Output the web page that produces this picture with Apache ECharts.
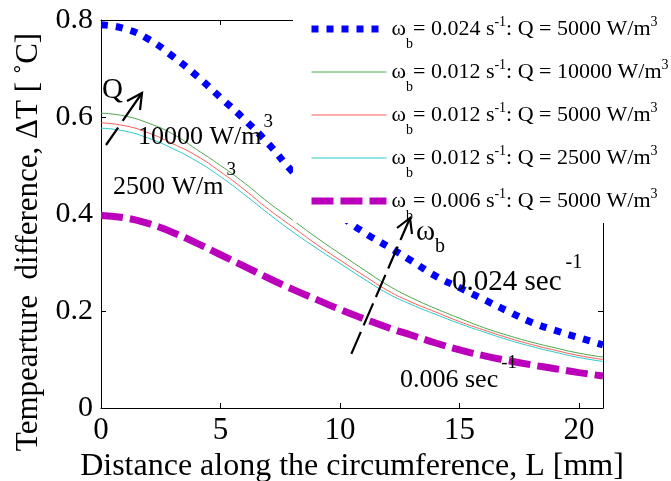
<!DOCTYPE html>
<html>
<head>
<meta charset="utf-8">
<script src="https://cdn.jsdelivr.net/npm/echarts@6/dist/echarts.min.js"></script>
<style>html,body{margin:0;padding:0;background:#fff}#c{width:671px;height:481px}</style>
</head>
<body>
<div id="c"></div>
<script>
// ---- data ----
var xValues = [0,1,2,3,4,5,6,7,8,9,10,11,12,13,14,15,16,17,18,19,20,21];
var wb024Q5000  = [0.790,0.782,0.760,0.725,0.685,0.640,0.595,0.545,0.488,0.440,0.398,0.362,0.333,0.303,0.272,0.248,0.224,0.200,0.177,0.160,0.145,0.130];
var wb012Q10000 = [0.608,0.602,0.587,0.565,0.533,0.500,0.464,0.424,0.388,0.352,0.318,0.285,0.253,0.227,0.205,0.185,0.166,0.150,0.136,0.124,0.113,0.105];
var wb012Q5000  = [0.588,0.582,0.567,0.545,0.520,0.487,0.450,0.410,0.374,0.338,0.305,0.273,0.242,0.218,0.198,0.178,0.161,0.145,0.131,0.119,0.108,0.100];
var wb012Q2500  = [0.577,0.571,0.556,0.535,0.509,0.477,0.440,0.401,0.364,0.330,0.298,0.266,0.236,0.213,0.193,0.174,0.157,0.141,0.127,0.115,0.104,0.096];
var wb006Q5000  = [0.397,0.392,0.380,0.362,0.340,0.316,0.292,0.268,0.245,0.224,0.203,0.184,0.166,0.150,0.134,0.120,0.108,0.098,0.089,0.081,0.073,0.066];
var xTicks = [0,5,10,15,20];
var yTicks = [0,0.2,0.4,0.6,0.8];
var legendNames = [
  '{w|ω}{sub|b}{n|= 0.024 s}{sup|-1}{n|: Q = 5000 W/m}{sup|3}',
  '{w|ω}{sub|b}{n|= 0.012 s}{sup|-1}{n|: Q = 10000 W/m}{sup|3}',
  '{w|ω}{sub|b}{n|= 0.012 s}{sup|-1}{n|: Q = 5000 W/m}{sup|3}',
  '{w|ω}{sub|b}{n|= 0.012 s}{sup|-1}{n|: Q = 2500 W/m}{sup|3}',
  '{w|ω}{sub|b}{n|= 0.006 s}{sup|-1}{n|: Q = 5000 W/m}{sup|3}'
];

function pairs(ys){ return xValues.map(function(x,i){ return [x, ys[i]]; }); }

var FONT = '"Liberation Serif","Times New Roman",serif';
var chart = echarts.init(document.getElementById('c'), null, {renderer:'canvas'});

var axisCommon = {
  axisLine:{show:true,onZero:false,lineStyle:{color:'#000',width:1}},
  axisTick:{show:true,inside:true,length:5,lineStyle:{color:'#000',width:1}},
  splitLine:{show:false}
};

var richLegend = {
  w:{fontFamily:FONT,fontSize:22,color:'#000'},
  n:{fontFamily:FONT,fontSize:22,color:'#000'},
  sub:{fontFamily:FONT,fontSize:14,color:'#000',padding:[30,0,0,0]},
  sup:{fontFamily:FONT,fontSize:14,color:'#000',padding:[0,0,14,0]}
};

var option = {
  backgroundColor:'#fff',
  animation:false,
  grid:{left:101,right:68,top:20,bottom:73,containLabel:false,outerBoundsMode:'none'},
  xAxis:[
    Object.assign({}, axisCommon, {
      type:'value',min:0,max:21,interval:5,position:'bottom',
      axisLabel:{show:true,color:'#000',fontFamily:FONT,fontSize:31,margin:7,showMaxLabel:false,
        formatter:function(v){ return xTicks.indexOf(v)>=0 ? String(v) : ''; }},
      name:'Distance along the circumference, L [mm]',
      nameLocation:'middle',nameGap:33,
      nameTextStyle:{color:'#000',fontFamily:FONT,fontSize:32}
    }),
    Object.assign({}, axisCommon, {
      type:'value',min:0,max:21,interval:5,position:'top',
      axisLabel:{show:false}
    })
  ],
  yAxis:[
    Object.assign({}, axisCommon, {
      type:'value',min:0,max:0.8,interval:0.2,position:'left',
      axisLabel:{show:true,color:'#000',fontFamily:FONT,fontSize:30,margin:8,
        formatter:function(v){ var r=Math.round(v*10)/10; return yTicks.indexOf(r)>=0 ? String(r) : ''; }},
      name:'Tempearture  difference, ΔT [ ˚C]',
      nameLocation:'middle',nameGap:46,
      nameTextStyle:{color:'#000',fontFamily:FONT,fontSize:31,padding:[0,56,0,0]}
    }),
    Object.assign({}, axisCommon, {
      type:'value',min:0,max:0.8,interval:0.2,position:'right',
      axisLabel:{show:false}
    })
  ],
  legend:{
    show:true,orient:'vertical',left:293,top:0,
    backgroundColor:'#fff',
    padding:[15,10,0,15],
    itemWidth:75,itemHeight:14,itemGap:7,
    itemStyle:{opacity:0},
    lineStyle:{width:'inherit'},
    data:legendNames,
    textStyle:{fontFamily:FONT,fontSize:22,color:'#000',rich:richLegend}
  },
  series:[
    {name:legendNames[0],type:'line',data:pairs(wb024Q5000),smooth:true,symbol:'none',showSymbol:false,
      lineStyle:{color:'#0000ff',width:7,type:[7,8],cap:'butt'},itemStyle:{color:'#0000ff'},z:3},
    {name:legendNames[1],type:'line',data:pairs(wb012Q10000),smooth:true,symbol:'none',showSymbol:false,
      lineStyle:{color:'#4aa84a',width:1},itemStyle:{color:'#4aa84a'}},
    {name:legendNames[2],type:'line',data:pairs(wb012Q5000),smooth:true,symbol:'none',showSymbol:false,
      lineStyle:{color:'#ff5a5a',width:1},itemStyle:{color:'#ff5a5a'}},
    {name:legendNames[3],type:'line',data:pairs(wb012Q2500),smooth:true,symbol:'none',showSymbol:false,
      lineStyle:{color:'#2cc8c8',width:1},itemStyle:{color:'#2cc8c8'}},
    {name:legendNames[4],type:'line',data:pairs(wb006Q5000),smooth:true,symbol:'none',showSymbol:false,
      lineStyle:{color:'#bb00bb',width:7,type:[22,7],cap:'butt'},itemStyle:{color:'#bb00bb'},z:3}
  ]
};
chart.setOption(option);

// ---- annotations ----
var richAnno = {
  n:{fontFamily:FONT,fontSize:26,color:'#000'},
  big:{fontFamily:FONT,fontSize:29,color:'#000'},
  sup30:{fontFamily:FONT,fontSize:19,color:'#000',padding:[0,0,30,2]},
  sup34:{fontFamily:FONT,fontSize:19,color:'#000',padding:[0,0,34,3]},
  sup38:{fontFamily:FONT,fontSize:20,color:'#000',padding:[0,0,38,4]},
  sub:{fontFamily:FONT,fontSize:20,color:'#000',padding:[30,0,0,0]}
};
function txt(x,y,s){
  return {type:'text',x:x,y:y,z:100,style:{text:s,fontFamily:FONT,fontSize:26,fill:'#000',verticalAlign:'middle',align:'left',rich:richAnno}};
}
var graphics = [
  txt(102,90,'{big|Q}'),
  txt(138,137,'{n|10000 W/m}{sup30|3}'),
  txt(113,187,'{n|2500 W/m}{sup34|3}'),
  txt(416,232,'{big|ω}{sub|b}'),
  txt(452,282,'{big|0.024 sec}{sup38|-1}'),
  txt(400,380,'{n|0.006 sec}{sup34|-1}'),
  {type:'line',z:100,shape:{x1:142,y1:93,x2:106,y2:145},style:{stroke:'#000',lineWidth:2.2,lineDash:[34,8]}},
  {type:'polyline',z:100,shape:{points:[[127,101],[142,93],[140,110]]},style:{stroke:'#000',lineWidth:2.2,fill:null}},
  {type:'line',z:100,shape:{x1:410,y1:218,x2:350,y2:357},style:{stroke:'#000',lineWidth:2.2,lineDash:[24,7]}},
  {type:'polyline',z:100,shape:{points:[[397,228],[410,218],[412,234]]},style:{stroke:'#000',lineWidth:2.2,fill:null}}
];
chart.setOption({graphic:graphics});
</script>
</body>
</html>
